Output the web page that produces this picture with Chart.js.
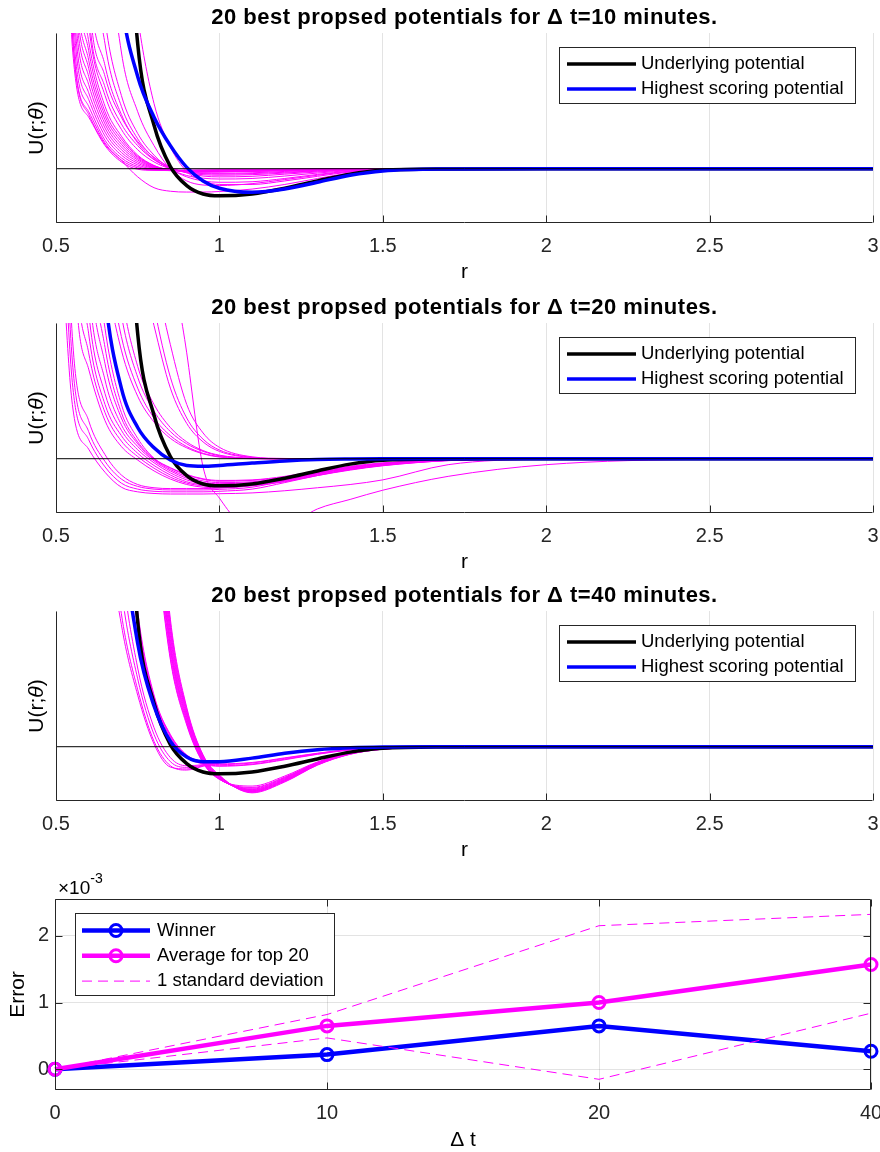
<!DOCTYPE html>
<html>
<head>
<meta charset="utf-8">
<title>20 best proposed potentials</title>
<script src="https://cdn.jsdelivr.net/npm/chart.js@4.4.1/dist/chart.umd.min.js"></script>
<style>
  html, body { margin: 0; padding: 0; background: #fff; }
  #page { position: relative; width: 880px; height: 1152px; overflow: hidden; }
  #page canvas { position: absolute; left: 0; }
</style>
</head>
<body>
<div id="page">
  <canvas id="pot10" width="880" height="290" style="top:0"></canvas>
  <canvas id="pot20" width="880" height="290" style="top:290px"></canvas>
  <canvas id="pot40" width="880" height="290" style="top:578px"></canvas>
  <canvas id="errors" width="880" height="282" style="top:870px"></canvas>
</div>
<script>
var rGrid = [0.5, 0.55, 0.6, 0.65, 0.7, 0.75, 0.8, 0.85, 0.9, 0.95, 1.0, 1.1, 1.2, 1.3, 1.4, 1.5, 1.7, 2.0, 2.5, 3.0];
var rTicks = [0.5, 1, 1.5, 2, 2.5, 3];
var rTickLabels = ['0.5', '1', '1.5', '2', '2.5', '3'];
var zeroR = [0.5, 3];
var zeroU = [0, 0];

var underlying = [90, 70, 50, 32, 14, 4.6, 1.6, 0.08, -0.62, -0.93, -1.0, -0.93, -0.72, -0.45, -0.2, -0.06, -0.01, 0, 0, 0];

// highest scoring potential for each time step
var best10 = [70, 50, 32, 13, 6.2, 3.4, 1.9, 0.85, 0.05, -0.45, -0.72, -0.87, -0.75, -0.5, -0.24, -0.08, -0.01, 0, 0, 0];
var best20 = [60, 32, 14, 6.0, 2.6, 1.15, 0.4, -0.05, -0.25, -0.28, -0.25, -0.16, -0.08, -0.03, -0.01, 0, 0, 0, 0, 0];
var best40 = [70, 50, 32, 18, 8.5, 3.8, 1.5, 0.2, -0.38, -0.55, -0.55, -0.42, -0.24, -0.11, -0.04, -0.01, 0, 0, 0, 0];

// the 20 best proposals, dt = 10 min
var top10 = [
  [30, 4.5, 1.9, 0.85, 0.25, -0.02, -0.06, -0.06, -0.05, -0.05, -0.04, -0.03, -0.02, -0.01, 0, 0, 0, 0, 0, 0],
  [33, 5.0, 2.1, 0.95, 0.32, 0.03, -0.05, -0.06, -0.06, -0.05, -0.05, -0.03, -0.02, -0.01, 0, 0, 0, 0, 0, 0],
  [36, 5.6, 2.3, 1.05, 0.4, 0.08, -0.04, -0.07, -0.07, -0.06, -0.05, -0.04, -0.03, -0.01, 0, 0, 0, 0, 0, 0],
  [39, 6.3, 2.55, 1.2, 0.5, 0.14, -0.02, -0.07, -0.07, -0.07, -0.06, -0.05, -0.03, -0.02, -0.01, 0, 0, 0, 0, 0],
  [42, 7.0, 2.8, 1.35, 0.6, 0.2, 0.01, -0.06, -0.08, -0.08, -0.07, -0.06, -0.04, -0.02, -0.01, 0, 0, 0, 0, 0],
  [45, 7.8, 3.1, 1.5, 0.7, 0.26, 0.03, -0.05, -0.08, -0.09, -0.08, -0.07, -0.05, -0.03, -0.01, 0, 0, 0, 0, 0],
  [48, 8.6, 3.4, 1.65, 0.8, 0.32, 0.05, -0.04, -0.09, -0.1, -0.09, -0.07, -0.05, -0.03, -0.01, 0, 0, 0, 0, 0],
  [51, 9.4, 3.7, 1.8, 0.9, 0.37, 0.07, -0.04, -0.09, -0.1, -0.1, -0.08, -0.06, -0.03, -0.01, 0, 0, 0, 0, 0],
  [54, 10.2, 4.0, 1.95, 1.0, 0.42, 0.09, -0.04, -0.1, -0.11, -0.11, -0.09, -0.06, -0.04, -0.02, 0, 0, 0, 0, 0],
  [57, 11.1, 4.35, 2.1, 1.1, 0.46, 0.11, -0.04, -0.1, -0.12, -0.11, -0.09, -0.07, -0.04, -0.02, 0, 0, 0, 0, 0],
  [60, 12, 4.7, 2.3, 1.2, 0.5, 0.12, -0.05, -0.1, -0.12, -0.12, -0.1, -0.07, -0.04, -0.02, 0, 0, 0, 0, 0],
  [70, 15, 5.3, 2.7, 1.45, 0.7, 0.25, 0.0, -0.12, -0.16, -0.17, -0.15, -0.1, -0.06, -0.03, -0.01, 0, 0, 0, 0],
  [85, 24, 7.5, 3.8, 2.0, 0.95, 0.35, 0.02, -0.12, -0.18, -0.2, -0.18, -0.13, -0.08, -0.03, -0.01, 0, 0, 0, 0],
  [80, 18, 5.8, 3.0, 1.65, 0.85, 0.33, 0.03, -0.15, -0.22, -0.24, -0.22, -0.16, -0.09, -0.04, -0.01, 0, 0, 0, 0],
  [90, 22, 6.6, 3.4, 1.9, 1.0, 0.42, 0.06, -0.15, -0.27, -0.3, -0.28, -0.2, -0.12, -0.05, -0.02, 0, 0, 0, 0],
  [90, 30, 10, 4.6, 2.3, 1.1, 0.4, -0.02, -0.25, -0.35, -0.38, -0.36, -0.27, -0.16, -0.07, -0.02, 0, 0, 0, 0],
  [95, 35, 12, 5.5, 2.7, 1.3, 0.5, 0.0, -0.3, -0.45, -0.5, -0.48, -0.36, -0.21, -0.09, -0.03, 0, 0, 0, 0],
  [100, 50, 22, 10, 4.3, 2.1, 0.85, -0.02, -0.45, -0.6, -0.62, -0.55, -0.4, -0.24, -0.1, -0.03, 0, 0, 0, 0],
  [200, 120, 60, 25, 11, 5.6, 2.4, 0.8, -0.1, -0.45, -0.58, -0.58, -0.45, -0.28, -0.12, -0.04, 0, 0, 0, 0],
  [30, 5.0, 2.0, 0.9, 0.3, -0.3, -0.7, -0.83, -0.86, -0.86, -0.84, -0.75, -0.58, -0.36, -0.16, -0.05, 0, 0, 0, 0]
];

// dt = 20 min
var top20 = [
  [12, 2.0, 0.35, -0.5, -1.05, -1.22, -1.28, -1.3, -1.3, -1.3, -1.29, -1.26, -1.18, -1.07, -0.95, -0.78, -0.22, -0.02, 0, 0],
  [15, 2.8, 0.7, -0.3, -0.9, -1.12, -1.2, -1.22, -1.22, -1.22, -1.2, -1.12, -0.88, -0.62, -0.4, -0.24, -0.06, 0, 0, 0],
  [18, 3.6, 1.0, -0.1, -0.75, -1.02, -1.12, -1.15, -1.15, -1.15, -1.13, -1.05, -0.8, -0.55, -0.35, -0.2, -0.05, 0, 0, 0],
  [22, 4.5, 1.4, 0.15, -0.6, -0.95, -1.07, -1.1, -1.1, -1.1, -1.08, -0.98, -0.78, -0.52, -0.32, -0.18, -0.04, 0, 0, 0],
  [60, 9, 3.3, 1.4, 0.45, -0.05, -0.45, -0.75, -0.95, -1.05, -1.07, -1.0, -0.85, -0.62, -0.42, -0.26, -0.07, -0.01, 0, 0],
  [62, 11, 3.9, 1.7, 0.65, 0.08, -0.35, -0.68, -0.9, -1.0, -1.03, -0.98, -0.83, -0.6, -0.4, -0.25, -0.07, -0.01, 0, 0],
  [64, 13, 4.6, 2.0, 0.85, 0.2, -0.25, -0.6, -0.85, -0.96, -1.0, -0.95, -0.8, -0.58, -0.38, -0.23, -0.06, -0.01, 0, 0],
  [66, 15, 5.4, 2.4, 1.05, 0.33, -0.15, -0.52, -0.78, -0.92, -0.96, -0.92, -0.77, -0.55, -0.36, -0.22, -0.06, -0.01, 0, 0],
  [68, 18, 6.4, 2.9, 1.25, 0.45, -0.08, -0.45, -0.72, -0.88, -0.92, -0.88, -0.74, -0.53, -0.34, -0.2, -0.05, 0, 0, 0],
  [70, 21, 7.6, 3.5, 1.5, 0.55, -0.03, -0.4, -0.66, -0.82, -0.88, -0.85, -0.71, -0.5, -0.32, -0.18, -0.05, 0, 0, 0],
  [75, 25, 9, 4.1, 1.7, 0.62, 0.0, -0.35, -0.6, -0.76, -0.83, -0.8, -0.68, -0.47, -0.3, -0.17, -0.04, 0, 0, 0],
  [80, 30, 10.5, 4.8, 2.0, 0.75, 0.02, -0.33, -0.58, -0.74, -0.8, -0.78, -0.65, -0.45, -0.28, -0.15, -0.03, 0, 0, 0],
  [150, 60, 14, 7.0, 4.0, 2.3, 1.35, 0.75, 0.4, 0.18, 0.06, 0.0, -0.01, 0, 0, 0, 0, 0, 0, 0],
  [160, 70, 16, 8.0, 4.5, 2.6, 1.5, 0.85, 0.45, 0.2, 0.08, 0.01, 0, 0, 0, 0, 0, 0, 0, 0],
  [170, 80, 20, 10, 5.3, 3.0, 1.75, 1.0, 0.55, 0.27, 0.11, 0.01, 0, 0, 0, 0, 0, 0, 0, 0],
  [180, 90, 24, 12, 6.2, 3.4, 2.0, 1.15, 0.62, 0.3, 0.13, 0.02, 0, 0, 0, 0, 0, 0, 0, 0],
  [250, 150, 60, 25, 12, 7.5, 4.9, 2.6, 1.3, 0.62, 0.27, 0.04, 0, 0, 0, 0, 0, 0, 0, 0],
  [260, 160, 70, 30, 15, 9.0, 5.6, 3.0, 1.5, 0.72, 0.32, 0.05, 0, 0, 0, 0, 0, 0, 0, 0],
  [270, 170, 80, 35, 18, 10.5, 7.0, 4.2, 2.0, 0.95, 0.42, 0.07, 0.01, 0, 0, 0, 0, 0, 0, 0],
  [300, 200, 120, 70, 40, 25, 15, 8.0, 3.9, -0.3, -1.45, -2.6, -2.5, -1.85, -1.5, -1.16, -0.65, -0.22, -0.02, 0]
];

// dt = 40 min
var top40 = [
  [220, 130, 80, 48, 28, 15, 8.3, 3.2, 0.8, -0.6, -1.2, -1.45, -1.08, -0.56, -0.22, -0.07, -0.01, 0, 0, 0],
  [225, 135, 83, 50, 29, 15.5, 8.6, 3.3, 0.85, -0.58, -1.2, -1.5, -1.12, -0.58, -0.23, -0.07, -0.01, 0, 0, 0],
  [230, 140, 86, 52, 30, 16, 8.9, 3.45, 0.9, -0.56, -1.19, -1.53, -1.14, -0.59, -0.23, -0.07, -0.01, 0, 0, 0],
  [235, 145, 90, 54, 31, 16.5, 9.2, 3.6, 0.96, -0.53, -1.18, -1.56, -1.16, -0.6, -0.24, -0.08, -0.01, 0, 0, 0],
  [240, 150, 93, 56, 32, 17, 9.5, 3.7, 1.02, -0.5, -1.17, -1.58, -1.18, -0.61, -0.24, -0.08, -0.01, 0, 0, 0],
  [245, 155, 96, 58, 33, 17.5, 9.8, 3.8, 1.08, -0.47, -1.15, -1.6, -1.2, -0.62, -0.25, -0.08, -0.01, 0, 0, 0],
  [250, 160, 100, 60, 34, 18, 10.1, 3.95, 1.14, -0.44, -1.13, -1.62, -1.22, -0.63, -0.25, -0.08, -0.01, 0, 0, 0],
  [255, 165, 104, 62, 35, 18.5, 10.4, 4.1, 1.2, -0.41, -1.11, -1.63, -1.23, -0.64, -0.26, -0.08, -0.01, 0, 0, 0],
  [260, 170, 108, 64, 36, 19, 10.7, 4.25, 1.26, -0.38, -1.1, -1.65, -1.25, -0.65, -0.26, -0.09, -0.01, 0, 0, 0],
  [265, 175, 112, 66, 37, 19.5, 11.0, 4.4, 1.32, -0.35, -1.08, -1.66, -1.26, -0.66, -0.27, -0.09, -0.01, 0, 0, 0],
  [270, 180, 116, 68, 38, 20, 11.3, 4.55, 1.38, -0.32, -1.06, -1.68, -1.28, -0.67, -0.27, -0.09, -0.01, 0, 0, 0],
  [275, 185, 120, 70, 39, 20.5, 11.6, 4.7, 1.45, -0.3, -1.05, -1.7, -1.3, -0.68, -0.28, -0.09, -0.01, 0, 0, 0],
  [80, 50, 20, 9, 4.5, 1.9, 0.1, -0.75, -0.82, -0.7, -0.58, -0.4, -0.24, -0.12, -0.05, -0.02, 0, 0, 0, 0],
  [85, 55, 22, 10, 4.9, 2.1, 0.2, -0.7, -0.86, -0.72, -0.6, -0.42, -0.25, -0.12, -0.05, -0.02, 0, 0, 0, 0],
  [90, 60, 26, 12, 5.8, 2.5, 0.45, -0.55, -0.76, -0.68, -0.58, -0.41, -0.25, -0.12, -0.05, -0.02, 0, 0, 0, 0],
  [95, 65, 30, 14, 6.8, 2.9, 0.7, -0.4, -0.7, -0.66, -0.57, -0.4, -0.24, -0.12, -0.05, -0.02, 0, 0, 0, 0],
  [100, 70, 40, 20, 10, 4.4, 1.7, 0.35, -0.38, -0.64, -0.72, -0.66, -0.48, -0.28, -0.12, -0.04, -0.01, 0, 0, 0],
  [100, 70, 40, 20, 10.5, 4.6, 1.8, 0.4, -0.35, -0.62, -0.7, -0.64, -0.46, -0.27, -0.11, -0.04, -0.01, 0, 0, 0],
  [100, 70, 40, 20, 11, 4.8, 1.85, 0.42, -0.32, -0.58, -0.66, -0.6, -0.43, -0.25, -0.1, -0.03, 0, 0, 0, 0],
  [100, 70, 40, 20, 11.5, 5.0, 1.9, 0.45, -0.3, -0.55, -0.63, -0.58, -0.41, -0.24, -0.1, -0.03, 0, 0, 0, 0]
];

// error vs time step (values are x 1e-3)
var dtLabels = ['0', '10', '20', '40'];
var winnerErr = [0, 0.22, 0.65, 0.27];
var averageErr = [0, 0.65, 1.0, 1.57];
var stdUpper = [0, 0.82, 2.15, 2.32];
var stdLower = [0, 0.47, -0.15, 0.84];
var errTicks = [0, 1, 2];
var errTickLabels = ['0', '1', '2'];

var titles = [
  '20 best propsed potentials for \u0394 t=10 minutes.',
  '20 best propsed potentials for \u0394 t=20 minutes.',
  '20 best propsed potentials for \u0394 t=40 minutes.'
];

var FONT = '"Liberation Sans", Arial, Helvetica, sans-serif';
var AXIS = '#262626';
var GRID = 'rgba(38,38,38,0.13)';
var BLUE = '#0000ff';
var MAGENTA = '#ff00ff';

Chart.defaults.font.family = FONT;
Chart.defaults.color = AXIS;

function xy(xs, ys) {
  return xs.map(function (x, i) { return { x: x, y: ys[i] }; });
}

function drawLegend(chart, lg) {
  var ctx = chart.ctx, a = chart.chartArea;
  var x0 = Math.round(lg.fromRight ? a.right - lg.fromRight : a.left + lg.fromLeft);
  var y0 = Math.round(a.top + lg.fromTop);
  ctx.fillStyle = '#fff';
  ctx.fillRect(x0, y0, lg.width, lg.height);
  ctx.strokeStyle = AXIS;
  ctx.lineWidth = 1;
  ctx.strokeRect(x0 + 0.5, y0 + 0.5, lg.width, lg.height);
  lg.labels.forEach(function (label, i) {
    var ds = chart.data.datasets.find(function (d) { return d.label === label; });
    var y = y0 + lg.firstRow + i * lg.rowStep;
    ctx.save();
    ctx.strokeStyle = ds.borderColor;
    ctx.lineWidth = ds.borderWidth;
    ctx.setLineDash(ds.borderDash || []);
    ctx.beginPath();
    ctx.moveTo(x0 + lg.lineFrom, y);
    ctx.lineTo(x0 + lg.lineTo, y);
    ctx.stroke();
    if (ds.pointRadius) {
      ctx.setLineDash([]);
      ctx.lineWidth = ds.pointBorderWidth;
      ctx.beginPath();
      ctx.arc(x0 + (lg.lineFrom + lg.lineTo) / 2, y, ds.pointRadius, 0, 2 * Math.PI);
      ctx.stroke();
    }
    ctx.restore();
    ctx.font = lg.fontSize + 'px ' + FONT;
    ctx.textBaseline = 'middle';
    ctx.textAlign = 'left';
    ctx.fillStyle = '#000';
    ctx.fillText(label, x0 + lg.textAt, y);
  });
}

function drawRich(ctx, parts, cx, cy, size, rotate) {
  ctx.save();
  ctx.translate(cx, cy);
  if (rotate) ctx.rotate(-Math.PI / 2);
  var widths = parts.map(function (p) {
    ctx.font = (p[1] ? 'italic ' : '') + size + 'px ' + FONT;
    return ctx.measureText(p[0]).width;
  });
  var x = -widths.reduce(function (s, w) { return s + w; }, 0) / 2;
  ctx.textBaseline = 'middle';
  ctx.textAlign = 'left';
  ctx.fillStyle = '#000';
  parts.forEach(function (p, i) {
    ctx.font = (p[1] ? 'italic ' : '') + size + 'px ' + FONT;
    ctx.fillText(p[0], x, 0);
    x += widths[i];
  });
  ctx.restore();
}

// MATLAB style axes: dark axis lines, inward ticks, boxed legend, labels
var matlabLook = {
  id: 'matlab',
  afterDatasetsDraw: function (chart, args, o) {
    var ctx = chart.ctx, a = chart.chartArea, xs = chart.scales.x, ys = chart.scales.y;
    var L = Math.round(a.left) + 0.5, R = Math.round(a.right) - 0.5;
    var T = Math.round(a.top) + 0.5, B = Math.round(a.bottom) - 0.5;
    ctx.save();
    ctx.strokeStyle = AXIS;
    ctx.lineWidth = 1;
    ctx.beginPath();
    ctx.moveTo(L, T);
    ctx.lineTo(L, B);
    ctx.lineTo(R, B);
    if (o.box) { ctx.lineTo(R, T); ctx.closePath(); }
    xs.ticks.forEach(function (t, i) {
      var px = Math.round(xs.getPixelForTick(i)) + 0.5;
      ctx.moveTo(px, B); ctx.lineTo(px, B - 7);
      if (o.box) { ctx.moveTo(px, T); ctx.lineTo(px, T + 7); }
    });
    if (o.box) {
      ys.ticks.forEach(function (t, i) {
        var py = Math.round(ys.getPixelForTick(i)) + 0.5;
        ctx.moveTo(L, py); ctx.lineTo(L + 7, py);
        ctx.moveTo(R, py); ctx.lineTo(R - 7, py);
      });
    }
    ctx.stroke();
    if (o.legend) drawLegend(chart, o.legend);
    ctx.restore();
  },
  afterDraw: function (chart, args, o) {
    var ctx = chart.ctx, a = chart.chartArea;
    var cx = (a.left + a.right) / 2, cy = (a.top + a.bottom) / 2;
    ctx.save();
    if (o.title) {
      ctx.font = 'bold 22px ' + FONT;
      ctx.letterSpacing = '0.5px';
      ctx.fillStyle = '#000';
      ctx.textAlign = 'center';
      ctx.textBaseline = 'middle';
      ctx.fillText(o.title, cx, o.titleY);
      ctx.letterSpacing = '0px';
    }
    drawRich(ctx, o.xLabel, cx, o.xLabelY, 21, false);
    drawRich(ctx, o.yLabel, o.yLabelX, cy, 21, true);
    if (o.exponent) {
      ctx.fillStyle = '#000';
      ctx.textAlign = 'left';
      ctx.textBaseline = 'alphabetic';
      ctx.font = '19px ' + FONT;
      ctx.fillText('\u00d710', a.left + 3, 24);
      var w = ctx.measureText('\u00d710').width;
      ctx.font = '14px ' + FONT;
      ctx.fillText(o.exponent, a.left + 3 + w, 13);
    }
    ctx.restore();
  }
};

function potentialChart(id, curves, best, title) {
  var datasets = [
    { label: 'zero', data: xy(zeroR, zeroU), borderColor: '#000', borderWidth: 1, order: 0 },
    { label: 'Highest scoring potential', data: xy(rGrid, best), borderColor: BLUE, borderWidth: 3.5, order: 1 },
    { label: 'Underlying potential', data: xy(rGrid, underlying), borderColor: '#000', borderWidth: 3.5, order: 2 }
  ];
  curves.forEach(function (c, i) {
    datasets.push({ label: 'proposal ' + (i + 1), data: xy(rGrid, c), borderColor: MAGENTA, borderWidth: 1, order: 3 });
  });
  return new Chart(document.getElementById(id), {
    type: 'line',
    data: { datasets: datasets },
    options: {
      responsive: false,
      animation: false,
      devicePixelRatio: 1,
      layout: { padding: { left: 56, right: 7, top: 33, bottom: 0 } },
      elements: {
        point: { radius: 0 },
        line: { cubicInterpolationMode: 'monotone', fill: false }
      },
      plugins: {
        legend: { display: false },
        tooltip: { enabled: false },
        matlab: {
          title: title,
          titleY: 18,
          xLabel: [['r', false]],
          xLabelY: 272,
          yLabel: [['U(r;', false], ['\u03b8', true], [')', false]],
          yLabelX: 37,
          legend: {
            labels: ['Underlying potential', 'Highest scoring potential'],
            fromRight: 314, fromTop: 14, width: 296, height: 56,
            firstRow: 17, rowStep: 25, lineFrom: 8, lineTo: 77, textAt: 82, fontSize: 18.5
          }
        }
      },
      scales: {
        x: {
          type: 'linear',
          min: 0.5,
          max: 3,
          afterBuildTicks: function (s) { s.ticks = rTicks.map(function (v) { return { value: v }; }); },
          afterFit: function (s) { s.height = 67; s.paddingLeft = 0; s.paddingRight = 0; },
          grid: { color: GRID, drawTicks: false },
          border: { display: false },
          ticks: {
            font: { size: 20 },
            color: AXIS,
            padding: 11,
            maxRotation: 0,
            autoSkip: false,
            callback: function (v, i) { return rTickLabels[i]; }
          }
        },
        y: { display: false, min: -2, max: 5 }
      }
    },
    plugins: [matlabLook]
  });
}

potentialChart('pot10', top10, best10, titles[0]);
potentialChart('pot20', top20, best20, titles[1]);
potentialChart('pot40', top40, best40, titles[2]);

var markerStyle = { pointRadius: 6, pointBorderWidth: 3, pointBackgroundColor: 'rgba(0,0,0,0)', pointHoverRadius: 6 };

new Chart(document.getElementById('errors'), {
  type: 'line',
  data: {
    labels: dtLabels,
    datasets: [
      { label: '1 standard deviation', data: stdUpper, borderColor: MAGENTA, borderWidth: 1, borderDash: [10, 6], pointRadius: 0, order: 0, clip: false },
      { label: '1 standard deviation (lower)', data: stdLower, borderColor: MAGENTA, borderWidth: 1, borderDash: [10, 6], pointRadius: 0, order: 0, clip: false },
      Object.assign({ label: 'Average for top 20', data: averageErr, borderColor: MAGENTA, pointBorderColor: MAGENTA, borderWidth: 4.5, order: 1, clip: false }, markerStyle),
      Object.assign({ label: 'Winner', data: winnerErr, borderColor: BLUE, pointBorderColor: BLUE, borderWidth: 4.5, order: 2, clip: false }, markerStyle)
    ]
  },
  options: {
    responsive: false,
    animation: false,
    devicePixelRatio: 1,
    layout: { padding: { left: 0, right: 7, top: 29, bottom: 0 } },
    elements: { line: { tension: 0, fill: false } },
    plugins: {
      legend: { display: false },
      tooltip: { enabled: false },
      matlab: {
        box: true,
        xLabel: [['\u0394 t', false]],
        xLabelY: 270,
        yLabel: [['Error', false]],
        yLabelX: 18,
        exponent: '-3',
        legend: {
          labels: ['Winner', 'Average for top 20', '1 standard deviation'],
          fromLeft: 20, fromTop: 14, width: 259, height: 82,
          firstRow: 17.5, rowStep: 25.3, lineFrom: 7, lineTo: 75, textAt: 82, fontSize: 18.5
        }
      }
    },
    scales: {
      x: {
        type: 'category',
        offset: false,
        afterFit: function (s) { s.height = 62; s.paddingLeft = 0; s.paddingRight = 0; },
        grid: { color: GRID, drawTicks: false, offset: false },
        border: { display: false },
        ticks: { font: { size: 20 }, color: AXIS, padding: 11, maxRotation: 0, autoSkip: false }
      },
      y: {
        min: -0.31,
        max: 2.55,
        afterBuildTicks: function (s) { s.ticks = errTicks.map(function (v) { return { value: v }; }); },
        afterFit: function (s) { s.width = 55; },
        grid: { color: GRID, drawTicks: false },
        border: { display: false },
        ticks: {
          font: { size: 20 },
          color: AXIS,
          padding: 6,
          callback: function (v, i) { return errTickLabels[i]; }
        }
      }
    }
  },
  plugins: [matlabLook]
});
</script>
</body>
</html>
